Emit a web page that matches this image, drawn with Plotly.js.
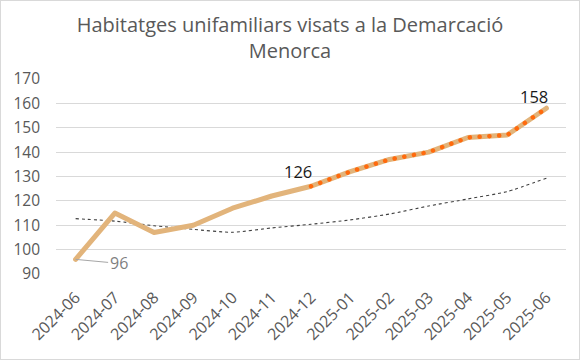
<!DOCTYPE html>
<html>
<head>
<meta charset="utf-8">
<script src="https://cdn.plot.ly/plotly-3.0.1.min.js"></script>
<style>
  html, body { margin: 0; padding: 0; background: #fff; }
  #chart { width: 578px; height: 358px; border: 1px solid #d9d9d9; }
</style>
</head>
<body>
<div id="chart"></div>
<script>
const months = ['2024-06','2024-07','2024-08','2024-09','2024-10','2024-11','2024-12',
                '2025-01','2025-02','2025-03','2025-04','2025-05','2025-06'];
const visats = [96, 115, 107, 110, 117, 122, 126, 132, 137, 140, 146, 147, 158];
const trend = [112.7, 111.7, 109.8, 108.3, 107.1, 108.9, 110.4, 112.2, 114.6, 117.9, 120.8, 123.8, 129.3];
const highlightFrom = 6; // 2024-12 onward
const yTicks = [90, 100, 110, 120, 130, 140, 150, 160, 170];

const hlX = months.slice(highlightFrom);
const hlY = visats.slice(highlightFrom);

const font = 'Open Sans, Liberation Sans, Arial, sans-serif';
const gray = '#595959';

const traces = [
  { x: months, y: trend, type: 'scatter', mode: 'lines',
    line: { color: '#404040', width: 1.1, dash: '3px,3px', shape: 'spline', smoothing: 0.6 } },
  { x: months, y: visats, type: 'scatter', mode: 'lines',
    line: { color: '#e2b47b', width: 5 } },
  { x: hlX, y: hlY, type: 'scatter', mode: 'lines',
    line: { color: '#ff6a0d', width: 4.5, dash: '0.1px,9.7px' } }
];

const last = months.length - 1;
const layout = {
  width: 578, height: 358,
  margin: { l: 55, r: 13, t: 78, b: 85 },
  paper_bgcolor: '#ffffff', plot_bgcolor: '#ffffff',
  showlegend: false,
  title: {
    text: 'Habitatges unifamiliars visats a la Demarcació<br>Menorca',
    font: { family: font, size: 20, color: gray },
    x: 0.5, xanchor: 'center', yref: 'container', y: 1 - 31/358, yanchor: 'middle'
  },
  xaxis: {
    type: 'category', range: [-0.5, months.length - 0.5],
    tickangle: -45, showgrid: false, zeroline: false,
    showline: false, ticks: '', ticklabelstandoff: 10,
    tickfont: { family: font, size: 16, color: gray }
  },
  yaxis: {
    range: [yTicks[0], yTicks[yTicks.length - 1]], tickvals: yTicks,
    showgrid: true, gridcolor: '#d9d9d9', gridwidth: 1, zeroline: false,
    showline: false, ticks: '', ticklabelstandoff: 15,
    tickfont: { family: font, size: 15.5, color: gray }
  },
  annotations: [
    { x: months[0], y: visats[0], text: String(visats[0]), showarrow: true,
      arrowhead: 0, arrowwidth: 1, arrowcolor: '#a6a6a6', ax: 43, ay: 4,
      font: { family: font, size: 16, color: '#7f7f7f' } },
    { x: months[highlightFrom], y: visats[highlightFrom], text: String(visats[highlightFrom]),
      showarrow: false, xshift: -13, yshift: 15,
      font: { family: font, size: 16.5, color: '#1a1a1a' } },
    { x: months[last], y: visats[last], text: String(visats[last]),
      showarrow: false, xshift: -12, yshift: 12,
      font: { family: font, size: 16.5, color: '#1a1a1a' } }
  ]
};

Plotly.newPlot('chart', traces, layout, { staticPlot: true, displayModeBar: false }).then(function (gd) {
  const tr = gd.querySelectorAll('.scatterlayer .trace');
  const tan = tr[1].querySelector('path.js-line');
  if (tan) { tan.style.strokeLinejoin = 'round'; tan.style.strokeLinecap = 'round'; }
  const dots = tr[2].querySelector('path.js-line');
  if (dots) { dots.style.strokeLinecap = 'round'; }
});
</script>
</body>
</html>
